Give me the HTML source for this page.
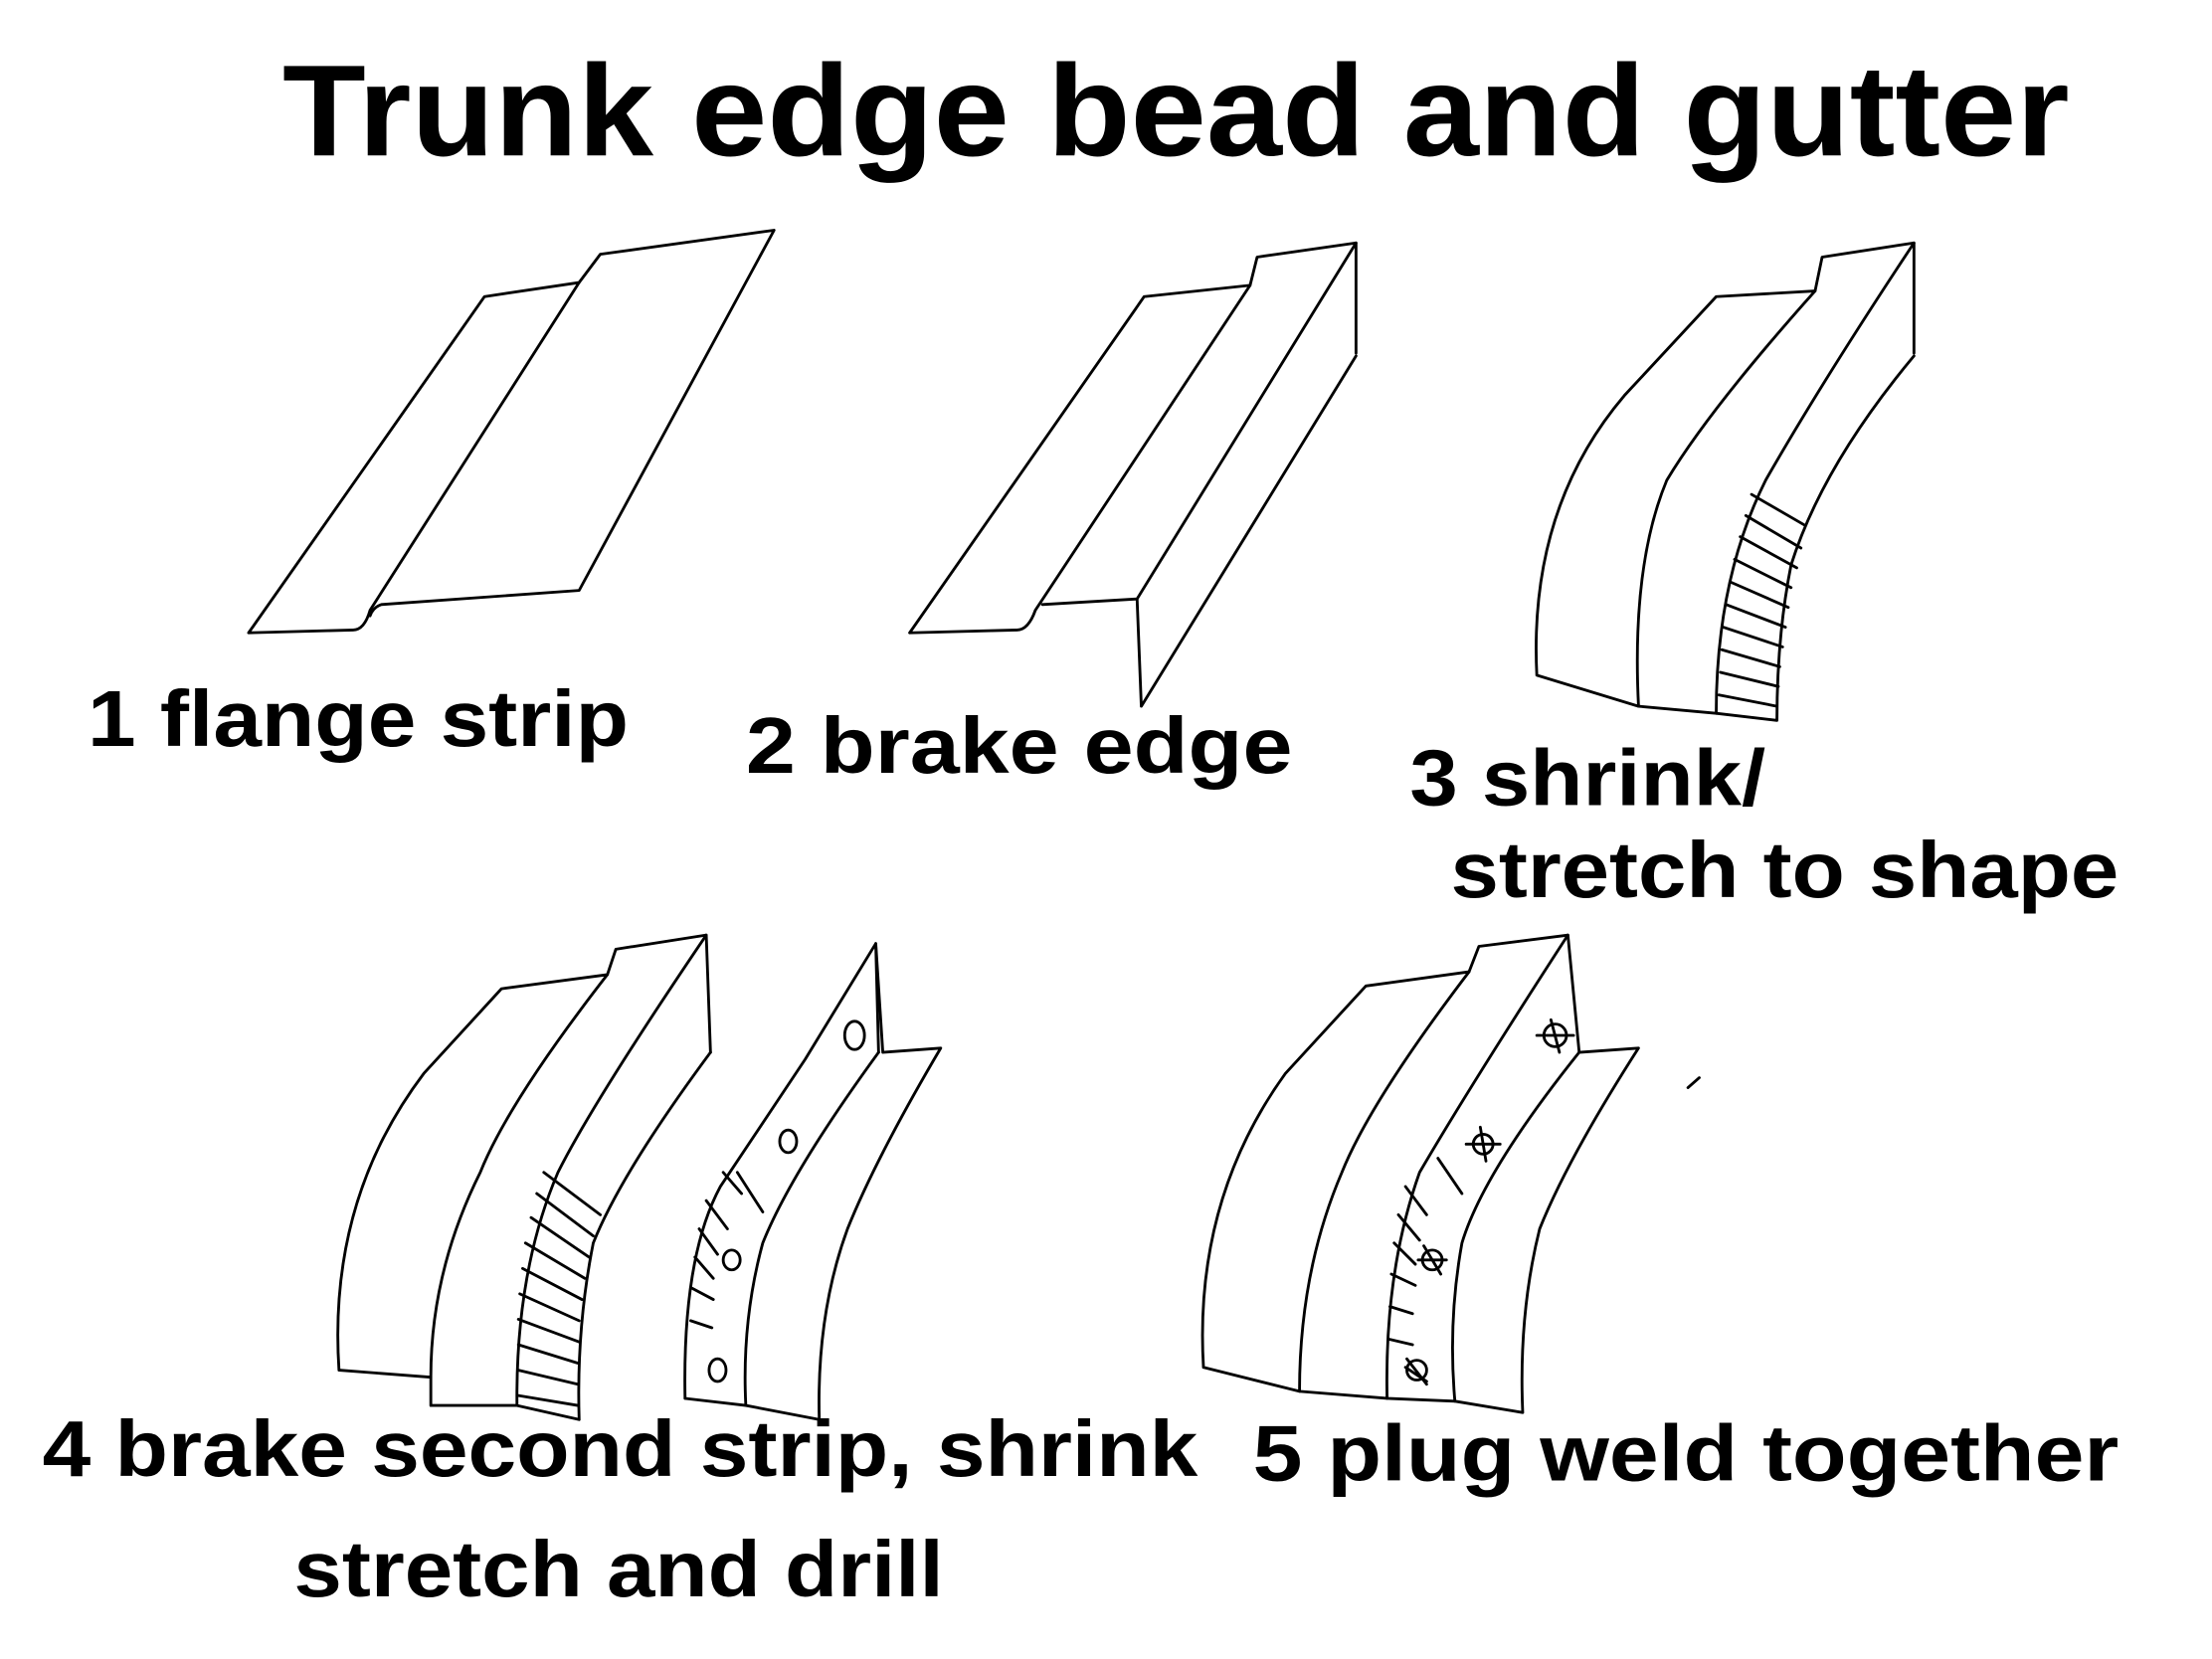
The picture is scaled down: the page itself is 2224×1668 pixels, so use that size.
<!DOCTYPE html>
<html><head><meta charset="utf-8"><style>
html,body{margin:0;padding:0;background:#fff;}
svg{display:block;}
text{font-family:"Liberation Sans",sans-serif;font-weight:bold;fill:#000;}
</style></head><body>
<svg width="2224" height="1668" viewBox="0 0 1566 1174.5" preserveAspectRatio="none" xmlns="http://www.w3.org/2000/svg">
<rect width="1566" height="1175" fill="#fff"/>
<text x="200" y="110" font-size="92" textLength="1265" lengthAdjust="spacingAndGlyphs">Trunk edge bead and gutter</text>
<text x="62" y="528" font-size="56" textLength="383" lengthAdjust="spacingAndGlyphs">1 flange strip</text>
<text x="528" y="547" font-size="56" textLength="387" lengthAdjust="spacingAndGlyphs">2 brake edge</text>
<text x="998" y="570" font-size="56" textLength="252" lengthAdjust="spacingAndGlyphs">3 shrink/</text>
<text x="1027" y="635" font-size="56" textLength="473" lengthAdjust="spacingAndGlyphs">stretch to shape</text>
<text x="30" y="1045" font-size="56" textLength="818" lengthAdjust="spacingAndGlyphs">4 brake second strip, shrink</text>
<text x="208" y="1130" font-size="56" textLength="460" lengthAdjust="spacingAndGlyphs">stretch and drill</text>
<text x="887" y="1048" font-size="56" textLength="613" lengthAdjust="spacingAndGlyphs">5 plug weld together</text>

<g fill="none" stroke="#000" stroke-width="2" stroke-linecap="round" stroke-linejoin="round">
<path d="M176,448 L343,210 L410,200 L262,432 Q258,446 250,446 L176,448"/>
<path d="M410,200 L425,180 L548,163 L410,418 L270,428 Q264,430 262,436"/>
<path d="M644,448 L810,210 L885,202 L733,432 Q728,446 720,446 L644,448"/>
<path d="M885,202 L890,182 L960,172 L960,250"/>
<path d="M960,172 L805,424 L738,428"/>
<path d="M805,424 L808,500 L960,252"/>
<path d="M1088,478 Q1082,360 1150,280 L1215,210 L1285,206 Q1210,290 1180,340 Q1155,400 1160,500 L1088,478"/>
<path d="M1285,206 L1290,182 L1355,172 L1355,250"/>
<path d="M1355,172 Q1290,270 1250,340 Q1215,410 1215,505 L1160,500"/>
<path d="M1355,252 Q1290,330 1268,400 Q1258,450 1258,510 L1215,505"/>
<path d="M1240,350 L1278,372 M1236,365 L1275,388 M1232,380 L1272,402 M1228,396 L1268,416 M1225,412 L1266,430 M1222,428 L1264,444 M1220,444 L1262,458 M1219,460 L1260,472 M1218,476 L1259,486 M1217,492 L1258,500"/>
<path d="M240,970 Q232,850 300,760 L355,700 L430,690 Q360,780 340,830 Q305,900 305,975 L240,970"/>
<path d="M430,690 L436,672 L500,662 L503,745"/>
<path d="M500,662 Q420,780 395,830 Q365,900 366,995 L305,995 L305,975"/>
<path d="M503,745 Q440,830 420,880 Q408,940 410,1005 L366,995"/>
<path d="M385,830 L425,860 M380,845 L420,875 M376,862 L417,890 M372,880 L414,905 M370,898 L412,920 M368,916 L410,935 M367,934 L410,950 M367,952 L409,965 M367,970 L409,980 M367,988 L409,995"/>
<path d="M485,990 Q483,890 510,840 L570,750 L620,668 L622,745"/>
<path d="M620,668 L625,745 L666,742 Q620,820 600,870 Q578,930 580,1005 L528,995"/>
<path d="M622,745 Q560,830 540,880 Q525,935 528,995 L485,990"/>
<path d="M500,850 L515,870 M495,870 L508,888 M492,890 L505,905 M490,912 L505,920 M489,935 L504,940 M522,830 L540,858 M512,830 L525,845"/>
<ellipse cx="605" cy="733" rx="7" ry="10"/>
<ellipse cx="558" cy="808" rx="6" ry="8"/>
<ellipse cx="518" cy="892" rx="6" ry="7"/>
<ellipse cx="508" cy="970" rx="6" ry="8"/>
<path d="M852,968 Q845,850 910,760 L967,698 L1040,688 Q970,780 950,830 Q920,900 920,985 L852,968"/>
<path d="M1040,688 L1047,670 L1110,662 L1118,745 L1160,742 Q1110,820 1090,870 Q1075,930 1078,1000 L1030,992"/>
<path d="M1110,662 Q1040,770 1005,830 Q980,900 982,990 L920,985"/>
<path d="M1118,745 Q1050,830 1035,880 Q1025,935 1030,992 L982,990"/>
<path d="M995,840 L1010,860 M990,860 L1005,878 M987,880 L1002,895 M985,902 L1002,910 M984,925 L1000,930 M983,948 L1000,952 M1018,820 L1035,845"/>
<circle cx="1101" cy="733" r="8"/><path d="M1098,722 L1104,745 M1088,733 L1114,733"/>
<circle cx="1050" cy="810" r="7"/><path d="M1048,798 L1052,822 M1038,810 L1062,810"/>
<circle cx="1014" cy="892" r="7"/><path d="M1008,882 L1020,902 M1004,892 L1024,892"/>
<circle cx="1003" cy="970" r="7"/><path d="M996,962 L1010,980 M995,968 L1010,978"/>
<path d="M1195,770 L1203,763"/>
</g>
</svg>
</body></html>
